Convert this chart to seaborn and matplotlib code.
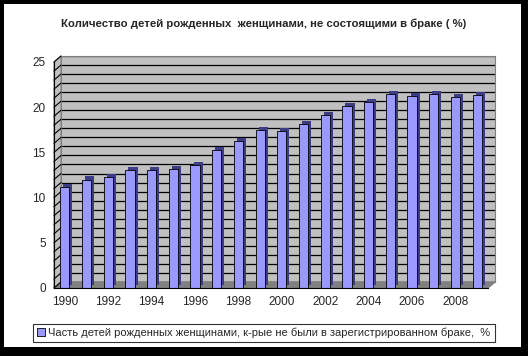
import matplotlib
matplotlib.use('Agg')
import matplotlib.pyplot as plt
import matplotlib.patheffects as pe
from matplotlib.patches import Rectangle, Polygon, Patch
import seaborn as sns
import pandas as pd

# datos
years = [1990, 1991, 1992, 1993, 1994, 1995, 1996, 1997, 1998, 1999,
         2000, 2001, 2002, 2003, 2004, 2005, 2006, 2007, 2008, 2009]
share = [11.2, 12.0, 12.3, 13.1, 13.0, 13.2, 13.6, 15.3, 16.3, 17.5,
         17.4, 18.1, 19.1, 20.1, 20.6, 21.5, 21.2, 21.5, 21.1, 21.3]
y_ticks = [0, 5, 10, 15, 20, 25]

title = 'Количество детей рожденных  женщинами, не состоящими в браке ( %)'
serie = 'Часть детей рожденных женщинами, к-рые не были в зарегистрированном браке,  %'

df = pd.DataFrame({'Año': [str(y) for y in years], 'Valor': share})

sns.set_style('white')
plt.rcParams['font.family'] = ['Liberation Sans', 'DejaVu Sans']

W, H = 528, 356
fig = plt.figure(figsize=(W / 100, H / 100), dpi=100, facecolor='black')
fig.patches.append(Rectangle((4 / W, (H - 347) / H), 517 / W, 343 / H,
                             transform=fig.transFigure, facecolor='white',
                             edgecolor='none', zorder=-3))

def px(x, y):
    return (x / W, (H - y) / H)

# pared del fondo (efecto 3D)
dx, dy = 7, 6
x0, x1, yb, yt = 54, 488, 288, 62
ax_bg = fig.add_axes([(x0 + dx) / W, (H - yb + dy) / H, (x1 - x0) / W, (yb - yt) / H])
ax_bg.set_zorder(-2)
ax_bg.set_facecolor('#c0c0c0')
ax_bg.set_ylim(0, 25)
ax_bg.set_xlim(0, 1)
ax_bg.set_yticks(range(0, 26))
ax_bg.grid(axis='y', color='black', linewidth=0.9)
ax_bg.tick_params(left=False, bottom=False, labelleft=False, labelbottom=False)
for s in ax_bg.spines.values():
    s.set_color('#808080')
    s.set_linewidth(0.8)

# suelo y pared izquierda
floor = Polygon([px(x0, yb), px(x1, yb), px(x1 + dx, yb - dy), px(x0 + dx, yb - dy)],
                closed=True, transform=fig.transFigure, facecolor='#808080',
                edgecolor='#808080', zorder=-1)
wall = Polygon([px(x0, yb), px(x0 + dx, yb - dy), px(x0 + dx, yt - dy), px(x0, yt)],
               closed=True, transform=fig.transFigure, facecolor='#c0c0c0',
               edgecolor='#808080', linewidth=0.8, zorder=-1)
fig.patches.extend([floor, wall])
for v in range(0, 26):
    yy = yb - (yb - yt) * v / 25
    fig.lines.append(plt.Line2D([x0 / W, (x0 + dx) / W], [(H - yy) / H, (H - yy + dy) / H],
                                transform=fig.transFigure, color='black', linewidth=0.8, zorder=-0.5))

# barras
ax = fig.add_axes([x0 / W, (H - yb) / H, (x1 - x0) / W, (yb - yt) / H])
ax.set_zorder(2)
ax.patch.set_visible(False)
sns.barplot(data=df, x='Año', y='Valor', color='#9999ff', saturation=1,
            edgecolor='black', linewidth=0.6, width=0.42, ax=ax)
for bar in ax.patches:
    bar.set_path_effects([pe.SimplePatchShadow(offset=(2.2, 2.2), shadow_rgbFace='#3d3d85', alpha=1),
                          pe.Normal()])

ax.set_ylim(0, 25)
ax.set_xlim(-0.5, len(years) - 0.5)
ax.set_yticks(y_ticks)
ax.set_yticklabels([str(t) for t in y_ticks], fontsize=8.5)
ax.set_xticks(range(len(years)))
ax.set_xticklabels([str(y) if y % 2 == 0 else '' for y in years], fontsize=8.5)
ax.set_xticks([i - 0.5 for i in range(len(years) + 1)], minor=True)
ax.tick_params(axis='x', which='major', length=0, pad=6)
ax.tick_params(axis='x', which='minor', length=4, width=0.8, color='black', direction='out')
ax.tick_params(axis='y', length=4, width=0.8, color='black', direction='out', pad=2)
ax.set_xlabel('')
ax.set_ylabel('')
for side in ['top', 'right']:
    ax.spines[side].set_visible(False)
for side in ['left', 'bottom']:
    ax.spines[side].set_color('black')
    ax.spines[side].set_linewidth(0.8)

fig.text(264 / W, (H - 24) / H, title, ha='center', va='center', fontsize=8.2, fontweight='bold')

leg = fig.legend(handles=[Patch(facecolor='#9999ff', edgecolor='black', linewidth=0.6)],
                 labels=[serie], loc='center', bbox_to_anchor=(264 / W, (H - 333) / H),
                 fontsize=8, frameon=True, fancybox=False, edgecolor='black',
                 handlelength=0.7, handleheight=0.7, handletextpad=0.3,
                 borderpad=0.35, borderaxespad=0)
leg.get_frame().set_linewidth(0.8)

fig.savefig('out.png', dpi=100, facecolor=fig.get_facecolor())
